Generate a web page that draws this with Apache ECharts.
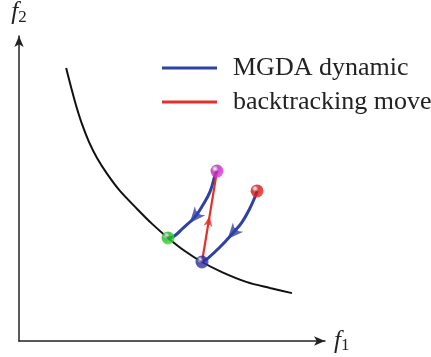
<!DOCTYPE html>
<html><head><meta charset="utf-8">
<script src="https://cdn.jsdelivr.net/npm/echarts@6/dist/echarts.min.js"></script>
<style>html,body{margin:0;padding:0;background:#fff}#c{width:431px;height:357px}</style>
</head><body><div id="c"></div>
<script>
// Pareto front (f1, f2)
const frontX = [1.54,1.70,1.86,2.06,2.29,2.55,2.88,3.30,3.86,4.35,4.87,5.42,5.98,6.63,7.45,8.20,8.92];
const frontY = [8.95,8.33,7.74,7.11,6.52,6.00,5.48,4.92,4.33,3.84,3.38,2.95,2.59,2.26,1.93,1.74,1.57];
// MGDA dynamic 1: magenta -> green
const mgda1X = [6.47,6.41,6.24,6.01,5.75,5.36,5.03,4.87];
const mgda1Y = [5.57,5.44,4.89,4.46,4.07,3.70,3.41,3.38];
// MGDA dynamic 2: red -> navy
const mgda2X = [7.78,7.71,7.55,7.29,6.99,6.57,6.18,5.98];
const mgda2Y = [4.92,4.72,4.36,3.90,3.54,3.08,2.72,2.59];
// backtracking move: navy -> magenta
const backX = [5.98,6.47];
const backY = [2.59,5.57];
// arrowhead positions (index along each path)
const mgda1ArrowIdx = 4;
const mgda2ArrowIdx = 4;
const backArrowFrac = 0.45;
// points
const pointNames = ['magenta','red','green','navy'];
const pointX = [6.47,7.78,4.87,5.98];
const pointY = [5.57,4.92,3.38,2.59];
const pointColors = ['#b02ab0','#c41818','#22b022','#2a2a92'];
const legendNames = ['MGDA dynamic','backtracking move'];

const BLUE = '#2f40a6', RED = '#e5302a';
const zip = (xs, ys) => xs.map((x, i) => [x, ys[i]]);
const angle = (dx, dy) => Math.atan2(dy, dx) * 180 / Math.PI - 90;

function arrowOnPath(xs, ys, i) {
  return { value: [xs[i], ys[i]], symbolRotate: angle(xs[i+1]-xs[i-1], ys[i+1]-ys[i-1]) };
}
const bx = backX[0] + (backX[1]-backX[0])*backArrowFrac;
const by = backY[0] + (backY[1]-backY[0])*backArrowFrac;
const arrowPath = 'path://M0,0 L7,15 Q0,9 -7,15 Z';

const sphere = c => ({
  type: 'radial', x: 0.35, y: 0.32, r: 0.75,
  colorStops: [{offset: 0, color: '#ffffff'}, {offset: 0.35, color: c}, {offset: 1, color: echarts.color.lift(c, -0.35)}]
});

const chart = echarts.init(document.getElementById('c'), null, {renderer: 'canvas'});
chart.setOption({
  animation: false,
  backgroundColor: '#fff',
  grid: {left: 19, right: 106, top: 36, bottom: 16},
  legend: {
    data: legendNames, orient: 'vertical', left: 162, top: 55, padding: 0,
    icon: 'rect', itemWidth: 55, itemHeight: 3, itemGap: 8,
    textStyle: {fontFamily: 'Liberation Serif', fontSize: 26, color: '#222', lineHeight: 24, padding: [0,0,0,11]}
  },
  xAxis: {
    type: 'value', min: 0, max: 10,
    name: '{f|f}{s|1}', nameLocation: 'end', nameGap: 9,
    nameTextStyle: {rich: {
      f: {fontFamily: 'Liberation Serif', fontStyle: 'italic', fontSize: 25, color: '#222'},
      s: {fontFamily: 'Liberation Serif', fontSize: 17, color: '#222', padding: [10,0,0,0]}
    }},
    axisLine: {lineStyle: {color: '#222', width: 1.5}, symbol: ['none','arrow'], symbolSize: [7, 11]},
    axisTick: {show: false}, axisLabel: {show: false}, splitLine: {show: false}
  },
  yAxis: {
    type: 'value', min: 0, max: 10,
    name: '{f|f}{s|2}', nameLocation: 'end', nameGap: 10,
    nameTextStyle: {align: 'center', rich: {
      f: {fontFamily: 'Liberation Serif', fontStyle: 'italic', fontSize: 25, color: '#222'},
      s: {fontFamily: 'Liberation Serif', fontSize: 17, color: '#222', padding: [10,0,0,0]}
    }},
    axisLine: {lineStyle: {color: '#222', width: 1.5}, symbol: ['none','arrow'], symbolSize: [7, 11]},
    axisTick: {show: false}, axisLabel: {show: false}, splitLine: {show: false}
  },
  series: [
    {name: 'front', type: 'line', data: zip(frontX, frontY), smooth: 0.3, symbol: 'none',
     lineStyle: {color: '#111', width: 2}, z: 2},
    {name: legendNames[0], type: 'line', data: zip(mgda1X, mgda1Y), smooth: 0.4, symbol: 'none',
     color: BLUE, lineStyle: {color: BLUE, width: 3}, z: 3},
    {name: legendNames[0], type: 'line', data: zip(mgda2X, mgda2Y), smooth: 0.4, symbol: 'none',
     color: BLUE, lineStyle: {color: BLUE, width: 3}, z: 3},
    {name: legendNames[1], type: 'line', data: zip(backX, backY), symbol: 'none',
     color: RED, lineStyle: {color: RED, width: 2.2}, z: 4},
    {name: 'arrowsBlue', type: 'scatter', symbol: arrowPath, symbolSize: [14, 16],
     itemStyle: {color: BLUE},
     data: [arrowOnPath(mgda1X, mgda1Y, mgda1ArrowIdx), arrowOnPath(mgda2X, mgda2Y, mgda2ArrowIdx)], z: 5},
    {name: 'arrowsRed', type: 'scatter', symbol: arrowPath, symbolSize: [9, 11],
     itemStyle: {color: RED},
     data: [{value: [bx, by], symbolRotate: angle(backX[1]-backX[0], backY[1]-backY[0])}], z: 5},
    {name: 'points', type: 'scatter', symbolSize: 13, z: 6,
     data: pointNames.map((n, i) => ({name: n, value: [pointX[i], pointY[i]],
       itemStyle: {color: sphere(pointColors[i])}}))}
  ]
});
</script></body></html>
